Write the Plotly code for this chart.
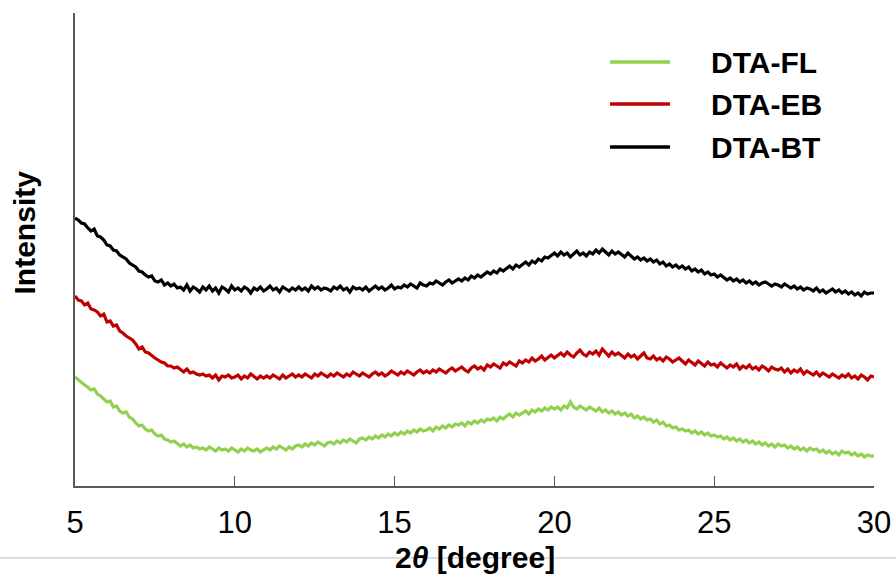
import numpy as np
import plotly.graph_objects as go

# 2-theta sampling grid (degrees), 0.1 deg steps from 5 to 30
two_theta = np.round(np.linspace(5, 30, 251), 2)

# Intensities (arbitrary units)
dta_bt = [
    268, 266, 263, 262, 258, 255, 257, 250, 249, 246,
    241, 240, 236, 235, 231, 229, 227, 223, 221, 219,
    215, 214, 211, 209, 210, 205, 204, 206, 201, 203,
    200, 202, 198, 199, 196, 201, 195, 199, 197, 194,
    199, 196, 200, 195, 198, 193, 199, 197, 194, 200,
    196, 198, 195, 199, 197, 193, 198, 196, 199, 195,
    197, 200, 196, 198, 194, 199, 197, 195, 198, 196,
    199, 196, 198, 195, 200, 197, 199, 196, 198, 197,
    195, 199, 197, 200, 196, 198, 194, 199, 197, 198,
    196, 199, 195, 198, 200, 197, 199, 196, 198, 201,
    197, 199, 198, 201, 199, 202, 200, 198, 203, 201,
    200, 203, 202, 205, 203, 201, 204, 206, 203, 205,
    207, 205, 208, 206, 210, 208, 211, 209, 212, 214,
    212, 215, 213, 217, 215, 218, 220, 217, 221, 219,
    222, 224, 221, 225, 223, 227, 225, 229, 228, 231,
    233, 230, 234, 231, 233, 229, 232, 235, 231, 233,
    230, 234, 232, 236, 233, 237, 234, 231, 235, 232,
    234, 231, 229, 233, 230, 227, 229, 226, 228, 225,
    227, 224, 226, 222, 224, 220, 222, 219, 221, 218,
    220, 217, 219, 215, 217, 214, 216, 212, 214, 211,
    212, 209, 211, 208, 206, 208, 205, 207, 204, 206,
    203, 205, 202, 204, 201, 203, 204, 202, 200, 202,
    201, 199, 202, 200, 198, 200, 197, 199, 196, 198,
    197, 195, 198, 194, 196, 193, 195, 197, 194, 196,
    193, 195, 192, 194, 191, 193, 190, 194, 192, 193,
    193,
]

dta_eb = [
    190, 186, 185, 181, 183, 177, 176, 174, 170, 172,
    164, 165, 160, 161, 155, 153, 150, 148, 146, 142,
    137, 139, 134, 133, 130, 128, 126, 124, 123, 120,
    120, 118, 119, 116, 114, 117, 113, 114, 112, 111,
    112, 110, 111, 108, 111, 106, 110, 109, 111, 108,
    109, 111, 107, 110, 108, 112, 109, 107, 110, 108,
    110, 108, 111, 109, 107, 111, 108, 110, 112, 109,
    111, 109, 112, 110, 108, 112, 110, 113, 111, 109,
    112, 110, 113, 111, 109, 112, 110, 114, 112, 110,
    113, 111, 109, 112, 114, 111, 113, 110, 112, 115,
    113, 111, 114, 112, 115, 113, 111, 114, 116, 113,
    115, 113, 116, 114, 117, 115, 113, 116, 118, 115,
    117, 119, 116, 114, 118, 120, 117, 119, 116, 121,
    119, 122, 120, 118, 123, 121, 124, 122, 120, 125,
    123, 126, 124, 128, 125, 127, 130, 126, 129, 131,
    128, 131, 133, 130, 134, 131, 129, 133, 136, 132,
    130, 134, 132, 135, 131, 137, 133, 130, 134, 131,
    133, 130, 128, 132, 129, 131, 127, 130, 133, 128,
    127, 130, 126, 128, 125, 129, 127, 124, 126, 128,
    125, 122, 126, 123, 121, 125, 122, 120, 124, 121,
    122, 119, 123, 120, 118, 121, 119, 122, 117, 120,
    118, 121, 117, 119, 116, 120, 118, 115, 119, 117,
    116, 118, 114, 117, 113, 116, 114, 117, 112, 115,
    113, 111, 114, 110, 113, 111, 109, 112, 110, 108,
    111, 109, 112, 108, 110, 107, 111, 109, 106, 110,
    109,
]

dta_fl = [
    109, 106, 104, 101, 99, 96, 97, 92, 90, 87,
    84, 85, 79, 80, 75, 73, 74, 69, 67, 63,
    60, 61, 57, 55, 56, 52, 50, 51, 47, 46,
    44, 45, 42, 40, 42, 39, 41, 38, 39, 37,
    38, 36, 39, 37, 35, 38, 36, 37, 35, 38,
    36, 34, 37, 35, 38, 36, 35, 37, 34, 36,
    38, 36, 39, 37, 40, 38, 36, 39, 37, 40,
    41, 39, 42, 40, 43, 41, 44, 42, 40, 43,
    44, 42, 45, 43, 46, 44, 47, 45, 43, 47,
    48, 46, 49, 47, 50, 48, 51, 49, 52, 50,
    53, 51, 54, 52, 55, 53, 56, 54, 57, 55,
    56, 58, 55, 59, 57, 60, 58, 61, 59, 62,
    61, 63, 60, 64, 62, 65, 63, 66, 64, 67,
    66, 68, 65, 69, 67, 70, 72, 69, 73, 71,
    73, 75, 72, 76, 74, 77, 75, 78, 76, 79,
    77, 79, 76, 80, 78, 84, 79, 77, 80, 78,
    76, 79, 77, 75, 78, 74, 76, 73, 75, 72,
    74, 71, 73, 70, 72, 68, 70, 67, 69, 66,
    67, 64, 66, 62, 64, 60, 61, 58, 59, 56,
    57, 55, 56, 53, 55, 52, 54, 51, 53, 50,
    51, 49, 50, 47, 49, 46, 48, 45, 47, 44,
    46, 43, 45, 42, 44, 41, 43, 40, 42, 39,
    42, 40, 41, 38, 40, 37, 39, 36, 38, 35,
    38, 36, 37, 34, 36, 33, 35, 32, 34, 31,
    35, 33, 34, 31, 33, 30, 32, 29, 31, 30,
    30,
]

series_names = ["DTA-FL", "DTA-EB", "DTA-BT"]
series_colors = ["#92D050", "#C00000", "#000000"]
series_values = [dta_fl, dta_eb, dta_bt]
x_tick_vals = [5, 10, 15, 20, 25, 30]
x_tick_text = ["5", "10", "15", "20", "25", "30"]

FONT = "Liberation Sans, Arial, sans-serif"
AXIS_COLOR = "#595959"

fig = go.Figure()
for name, color, vals in zip(series_names, series_colors, series_values):
    fig.add_trace(go.Scatter(
        x=two_theta, y=vals, mode="lines", name=name,
        line=dict(color=color, width=3.2), showlegend=False,
    ))

# Manual legend (long line samples like the original)
legend_y = [0.8964, 0.8076, 0.7167]
for name, color, ly in zip(series_names, series_colors, legend_y):
    fig.add_shape(type="line", xref="paper", yref="paper",
                  x0=0.6696, x1=0.7447, y0=ly, y1=ly,
                  line=dict(color=color, width=3.5))
    fig.add_annotation(xref="paper", yref="paper", x=0.7935, y=ly,
                       xanchor="left", yanchor="middle", showarrow=False,
                       text="<b>%s</b>" % name,
                       font=dict(family=FONT, size=30, color="#000000"))

# Thin grey separator line across the bottom
fig.add_shape(type="line", xref="paper", yref="paper", layer="below",
              x0=-0.2, x1=1.2, y0=-0.1522, y1=-0.1522,
              line=dict(color="#BDBDBD", width=1))

# Axis titles as annotations
fig.add_annotation(xref="paper", yref="paper", x=0.5, y=-0.152,
                   xanchor="center", yanchor="middle", showarrow=False,
                   text="<b>2<i>θ</i> [degree]</b>",
                   font=dict(family=FONT, size=30, color="#000000"))
fig.add_annotation(xref="paper", yref="paper", x=-0.062, y=0.537,
                   xanchor="center", yanchor="middle", showarrow=False,
                   textangle=-90, text="<b>Intensity</b>",
                   font=dict(family=FONT, size=30, color="#000000"))

fig.update_layout(
    width=896, height=578,
    margin=dict(l=75, r=22, t=13, b=92),
    paper_bgcolor="white", plot_bgcolor="white",
    font=dict(family=FONT, color="#000000"),
)
fig.update_xaxes(
    range=[5, 30], tickvals=x_tick_vals, ticktext=x_tick_text,
    ticks="inside", ticklen=10, tickwidth=1.3, tickcolor=AXIS_COLOR,
    showline=True, linecolor=AXIS_COLOR, linewidth=1.5,
    showgrid=False, zeroline=False, automargin=False,
    tickfont=dict(family=FONT, size=31, color="#000000"),
    ticklabelstandoff=8,
)
fig.update_yaxes(
    range=[0, 473], showticklabels=False, ticks="",
    showline=True, linecolor=AXIS_COLOR, linewidth=1.5,
    showgrid=False, zeroline=False, automargin=False,
)

fig.write_html("out.html")
